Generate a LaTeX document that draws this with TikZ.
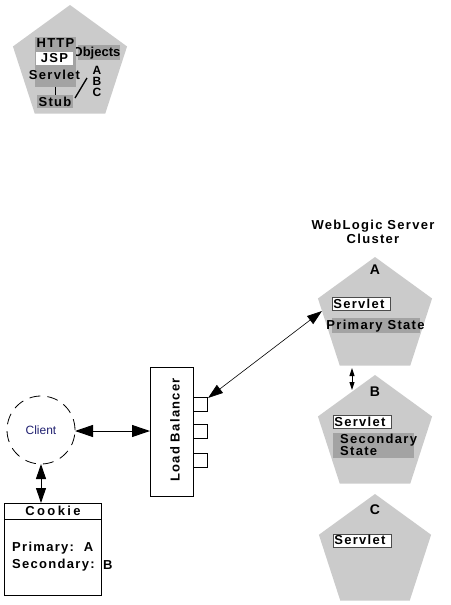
\documentclass[tikz,border=0pt]{standalone}
\usepackage{fontspec}
\setmainfont{Liberation Sans}
\newfontfamily\spc[LetterSpace=10]{Liberation Sans}
\usetikzlibrary{arrows.meta,shapes.geometric}
\definecolor{pent}{HTML}{CBCBCB}
\definecolor{dgray}{HTML}{A3A3A3}
\definecolor{clientblue}{HTML}{202070}
\begin{document}
\begin{tikzpicture}[x=1pt,y=-1pt,
  lbl/.style={font=\spc\bfseries\fontsize{13}{12}\selectfont, inner sep=0pt},
  big/.style={font=\bfseries\fontsize{14}{14}\selectfont, inner sep=0pt},
  pentagon/.style={regular polygon, regular polygon sides=5, minimum size=120pt, fill=pent, inner sep=0pt},
  wbox/.style={lbl, draw=gray!60!black, line width=0.6pt, fill=white, text width=56pt, inner xsep=1pt, minimum height=13pt, align=left},
  jbox/.style={lbl, fill=white, minimum width=37pt, minimum height=13pt},
  gbox/.style={lbl, fill=dgray, minimum height=13pt},
  port/.style={draw, line width=0.8pt, fill=white, minimum size=14pt, inner sep=0pt},
  conn/.style={line width=0.7pt},
  bigtip/.style={{Triangle[length=18pt,width=12pt]}-{Triangle[length=18pt,width=12pt]}},
  midtip/.style={{Triangle[length=15pt,width=10pt]}-{Triangle[length=15pt,width=10pt]}},
  smalltip/.style={{Triangle[length=8pt,width=5pt]}-{Triangle[length=8pt,width=5pt]}}
]
\useasboundingbox (0,0) rectangle (450,605);

% ---------- legend pentagon ----------
\node[pentagon] (legend) at (70,65) {};
\fill[dgray] (78,45) rectangle (120,60);
\node[inner sep=0pt, font=\bfseries\fontsize{13}{12}\selectfont] (objt) at (96.5,53) {Objects};
\node[gbox, minimum width=41pt, minimum height=50pt, anchor=north west] (http) at (35,37) {};
\node[lbl] (httpt) at (55.5,43.5) {HTTP};
\node[jbox] (jsp) at (54.5,58.5) {JSP};
\node[lbl] (srv0) at (54.5,75) {Servlet};
\node[gbox, minimum width=36pt] (stub) at (55,101.5) {Stub};
\coordinate (httpb) at (55,87);
\draw[line width=1pt] (httpb) -- (stub.north);
\node[inner sep=0pt, align=center, font=\bfseries\fontsize{12}{11}\selectfont] (abc) at (97,81) {A\\B\\C};
\coordinate (s1) at (75,98);
\coordinate (s2) at (87,78);
\draw[line width=1.3pt] (s1) -- (s2);

% ---------- cluster ----------
\node[lbl, align=center, font=\spc\bfseries\fontsize{13}{14}\selectfont] (title) at (373,232) {WebLogic Server\\Cluster};

\node[pentagon] (A) at (375,317) {};
\node[pentagon] (B) at (375,435) {};
\node[pentagon, minimum size=118pt] (C) at (375,553) {};
\node[big] (Alab) at (375,270) {A};
\node[big] (Blab) at (375,392) {B};
\node[big] (Clab) at (375,510) {C};

\node[wbox, anchor=north west] (Asrv) at (332,297) {Servlet};
\fill[dgray] (332,318) rectangle (420,333);
\node[lbl] (Aps) at (375.5,326) {Primary State};

\node[wbox, anchor=north west] (Bsrv) at (333,415) {Servlet};
\fill[dgray] (333,433) rectangle (414,458);
\node[lbl, align=left, anchor=north west] (Bss) at (340,434) {Secondary\\State};

\node[wbox, anchor=north west] (Csrv) at (333,533.5) {Servlet};

% ---------- load balancer ----------
\node[draw, line width=0.8pt, fill=white, minimum width=43pt, minimum height=129pt, inner sep=0pt] (lbx) at (171.5,431.5) {};
\node[lbl, rotate=90] (lbt) at (175,430) {Load Balancer};
\node[port] (p1) at (200,404) {};
\node[port] (p2) at (200,431.5) {};
\node[port] (p3) at (200,460.5) {};

% ---------- client ----------
\node[circle, draw, line width=0.8pt, dash pattern=on 11pt off 7pt, minimum size=68pt, inner sep=0pt,
      font=\fontsize{12}{12}\selectfont, text=clientblue] (client) at (41,430) {Client};

% ---------- cookie ----------
\node[draw, line width=0.8pt, minimum width=97pt, minimum height=92pt, anchor=north west, inner sep=0pt] (cookie) at (4,503) {};
\coordinate (chl) at (4,519);
\coordinate (chr) at (101,519);
\draw[line width=0.8pt] (chl) -- (chr);
\node[lbl, font=\spc\bfseries\fontsize{13}{12}\selectfont\addfontfeature{LetterSpace=18}] (ct) at (53,511) {Cookie};
\node[lbl, anchor=west] (cp) at (12,548) {Primary:\ \ A};
\node[lbl, anchor=west] (cs) at (12,565) {Secondary:};
\node[lbl, anchor=west] (csb) at (103,565) {B};

% ---------- connectors ----------
\coordinate (lbl1) at (150,431);
\coordinate (cle) at (75,431);
\draw[conn, line width=1pt, bigtip] (cle) -- (lbl1);
\coordinate (cls) at (41,464);
\draw[conn, line width=1pt, midtip] (cls) -- (cookie.north -| cls);
\coordinate (aA) at (322,311);
\coordinate (p1e) at (208,398);
\draw[conn, line width=0.6pt, midtip] (p1e) -- (aA);
\coordinate (ab1) at (352,368);
\coordinate (ab2) at (352,390);
\draw[conn, line width=1pt, smalltip] (ab1) -- (ab2);
\end{tikzpicture}
\end{document}
